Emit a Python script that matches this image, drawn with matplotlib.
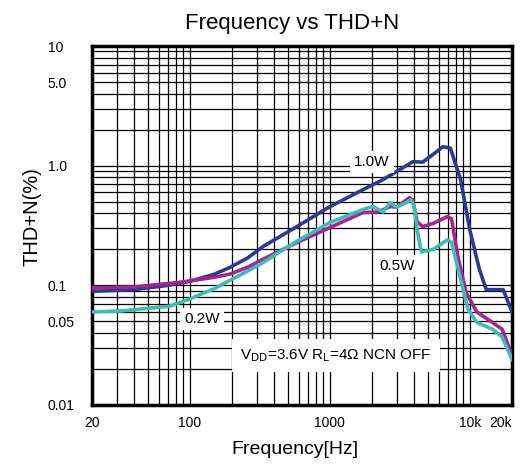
import matplotlib
matplotlib.use("Agg")
import matplotlib.pyplot as plt
from matplotlib.ticker import FixedLocator, FixedFormatter, NullFormatter, LogLocator

plt.rcParams['font.family'] = ['Liberation Sans', 'DejaVu Sans']

# data (Hz, THD+N %)
freq_1w = [20, 40, 70, 100, 150, 193, 260, 333, 582, 1002, 1725, 2398, 3925, 4600, 5500, 6430, 7260,
           8600, 10000, 11700, 13100, 17300, 20000]
thd_1w = [0.089, 0.092, 0.1, 0.108, 0.124, 0.141, 0.17, 0.211, 0.31, 0.455, 0.63, 0.765, 1.08, 1.07, 1.25,
          1.44, 1.4, 0.76, 0.29, 0.136, 0.092, 0.092, 0.06]

freq_05w = [20, 40, 85, 118, 150, 193, 260, 333, 582, 1002, 1725, 2200, 2700, 3000, 3700, 3900, 4200, 4600,
            5500, 6900, 7400, 8200, 9400, 11200, 14500, 17000, 20000]
thd_05w = [0.095, 0.097, 0.106, 0.112, 0.117, 0.124, 0.142, 0.165, 0.228, 0.304, 0.406, 0.41, 0.455, 0.45,
           0.54, 0.52, 0.34, 0.31, 0.33, 0.375, 0.36, 0.175, 0.087, 0.06, 0.049, 0.043, 0.026]

freq_02w = [20, 32, 72, 100, 150, 193, 260, 333, 582, 1002, 1725, 2030, 2400, 2700, 3000, 3500, 3800, 4000,
            4200, 4500, 5500, 6900, 7400, 8600, 9700, 11200, 14500, 17000, 20000]
thd_02w = [0.06, 0.061, 0.067, 0.077, 0.094, 0.11, 0.132, 0.155, 0.234, 0.335, 0.43, 0.455, 0.41, 0.49, 0.45,
           0.49, 0.52, 0.46, 0.29, 0.19, 0.2, 0.24, 0.23, 0.112, 0.063, 0.049, 0.043, 0.037, 0.024]

x_ticks = [20, 100, 1000, 10000, 20000]
x_labels = ["20", "100", "1000", "10k", "20k"]
y_ticks = [0.01, 0.05, 0.1, 1.0, 5.0, 10]
y_labels = ["0.01", "0.05", "0.1", "1.0", "5.0", "10"]

fig = plt.figure(figsize=(5.25, 4.66), dpi=100)

ax = fig.add_axes([92 / 525, 1 - 405 / 466, 420 / 525, 359 / 466])
ax.set_xscale("log")
ax.set_yscale("log")
ax.set_xlim(20, 20000)
ax.set_ylim(0.01, 10)

ax.xaxis.set_major_locator(FixedLocator(x_ticks))
ax.xaxis.set_major_formatter(FixedFormatter(x_labels))
ax.xaxis.set_minor_locator(LogLocator(base=10, subs=range(1, 10), numticks=20))
ax.xaxis.set_minor_formatter(NullFormatter())
ax.yaxis.set_major_locator(FixedLocator(y_ticks))
ax.yaxis.set_major_formatter(FixedFormatter(y_labels))
ax.yaxis.set_minor_locator(LogLocator(base=10, subs=range(1, 10), numticks=20))
ax.yaxis.set_minor_formatter(NullFormatter())

ax.grid(True, which="both", color="black", linewidth=0.9)
ax.tick_params(which="both", length=0, labelsize=10)
ax.tick_params(axis="x", pad=8)
ax.tick_params(axis="y", pad=32)
for lbl in ax.get_yticklabels():
    lbl.set_horizontalalignment("left")
ax.get_xticklabels()[-1].set_horizontalalignment("right")
for s in ax.spines.values():
    s.set_linewidth(2.5)

ax.plot(freq_1w, thd_1w, color="#2e3a92", linewidth=2.6, zorder=3, solid_joinstyle="round")
ax.plot(freq_05w, thd_05w, color="#a6248e", linewidth=2.6, zorder=3, solid_joinstyle="round")
ax.plot(freq_02w, thd_02w, color="#3dbdb7", linewidth=2.6, zorder=4, solid_joinstyle="round")

box = dict(facecolor="white", edgecolor="none", pad=3)
ax.text(2000, 1.07, "1.0W", fontsize=11, ha="center", va="center", bbox=box, zorder=5)
ax.text(3000, 0.145, "0.5W", fontsize=11, ha="center", va="center", bbox=box, zorder=5)
ax.text(122, 0.052, "0.2W", fontsize=11, ha="center", va="center", bbox=box, zorder=5)
ax.text(1100, 0.026, "V$_{\\mathrm{DD}}$=3.6V R$_{\\mathrm{L}}$=4\u03a9 NCN OFF", fontsize=11,
        ha="center", va="center", bbox=dict(facecolor="white", edgecolor="none", pad=6), zorder=5)

ax.set_title("Frequency vs THD+N", fontsize=16, pad=12, x=0.476)
ax.set_xlabel("Frequency[Hz]", fontsize=14, labelpad=8, x=0.484)
ax.set_ylabel("THD+N(%)", fontsize=14.5, labelpad=4, y=0.524)

fig.savefig("out.png", dpi=100)
